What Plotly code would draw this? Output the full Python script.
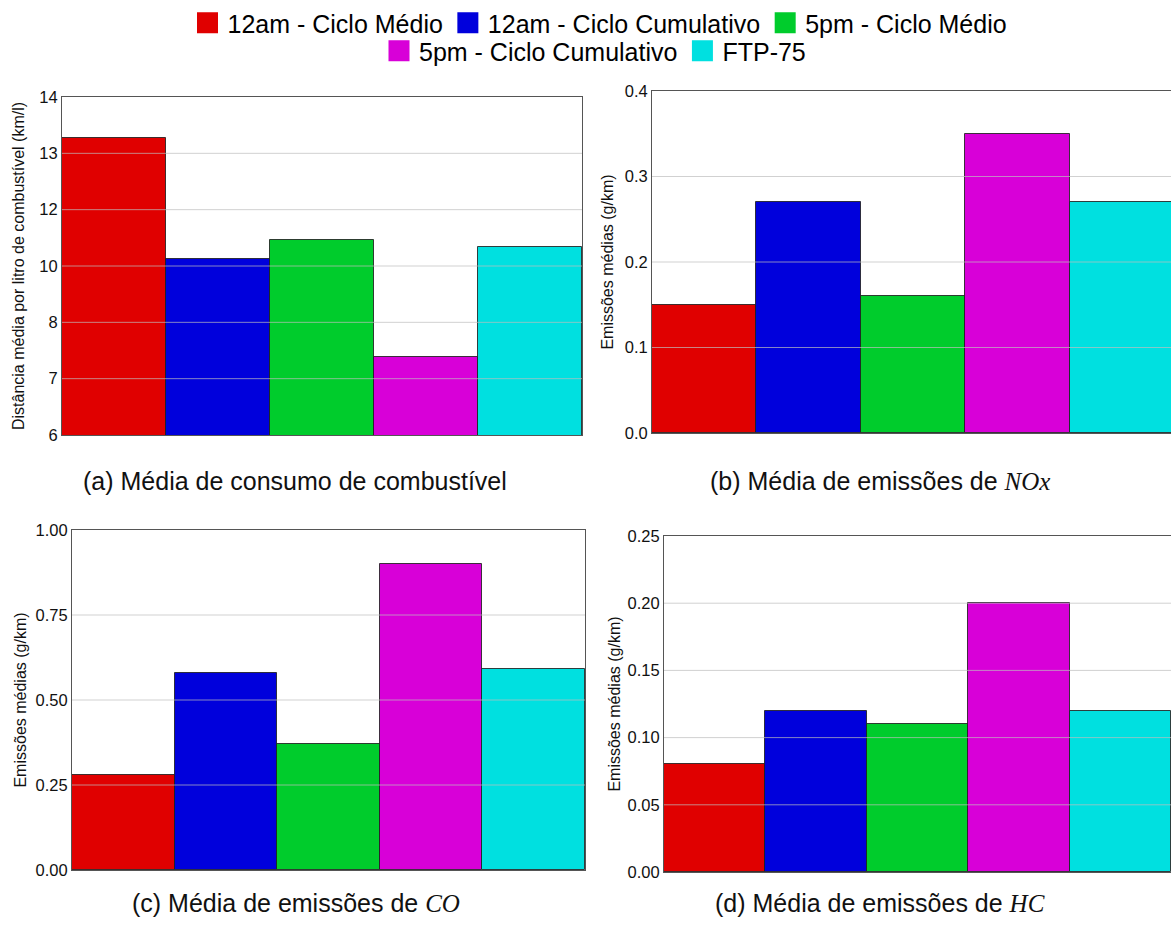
import numpy as np
import plotly.graph_objects as go

# Series (one bar per test cycle in each panel)
series = [
    "12am - Ciclo Médio",
    "12am - Ciclo Cumulativo",
    "5pm - Ciclo Médio",
    "5pm - Ciclo Cumulativo",
    "FTP-75",
]
colors = ["#e00000", "#0000dc", "#00cc2c", "#d800d8", "#00e0e0"]

# Average fuel consumption (km/l)
consumo = [13.03, 10.16, 10.61, 7.84, 10.44]
consumo_ticktext = ["6", "7", "8", "10", "12", "13", "14"]

# Average emissions (g/km)
nox = [0.15, 0.27, 0.16, 0.35, 0.27]
co = [0.28, 0.58, 0.37, 0.90, 0.59]
hc = [0.08, 0.12, 0.11, 0.20, 0.12]

W, H = 1171, 934
FONT = "Liberation Sans"
MATH = "Liberation Serif"


def px_x(v):
    return v / W


def px_y(v):
    return 1 - v / H


def math(s):
    return "<span style='font-family:%s'><i>%s</i></span>" % (MATH, s)


panels = [
    dict(vals=consumo, ax="", rng=[6, 14],
         tickvals=list(np.linspace(6, 14, len(consumo_ticktext))),
         ticktext=consumo_ticktext, fmt=None,
         title="Distância média por litro de combustível (km/l)", standoff=10,
         xdom=[62, 582], ydom=[97, 435], mirror=True, xr=[-0.5, 4.5],
         caption="(a) Média de consumo de combustível", cap=(295, 481)),
    dict(vals=nox, ax="2", rng=[0, 0.4],
         tickvals=[0, 0.1, 0.2, 0.3, 0.4], ticktext=None, fmt=".1f",
         title="Emissões médias (g/km)", standoff=7,
         xdom=[652, 1171], ydom=[91, 433], mirror=False, xr=[-0.5, 4.47],
         caption="(b) Média de emissões de " + math("NOx"), cap=(880, 481)),
    dict(vals=co, ax="3", rng=[0, 1.0],
         tickvals=[0, 0.25, 0.5, 0.75, 1.0], ticktext=None, fmt=".2f",
         title="Emissões médias (g/km)", standoff=4,
         xdom=[72, 585], ydom=[530, 870], mirror=True, xr=[-0.5, 4.5],
         caption="(c) Média de emissões de " + math("CO"), cap=(296, 903)),
    dict(vals=hc, ax="4", rng=[0, 0.25],
         tickvals=[0, 0.05, 0.10, 0.15, 0.20, 0.25], ticktext=None, fmt=".2f",
         title="Emissões médias (g/km)", standoff=2,
         xdom=[664, 1171], ydom=[536, 872], mirror=False, xr=[-0.5, 4.5],
         caption="(d) Média de emissões de " + math("HC"), cap=(880, 903)),
]

fig = go.Figure()
layout = dict(
    width=W, height=H,
    margin=dict(l=0, r=0, t=0, b=0),
    paper_bgcolor="white", plot_bgcolor="white",
    bargap=0, barmode="overlay",
    font=dict(family=FONT, color="#111111"),
    showlegend=True,
)

shapes = []
annotations = []

for p in panels:
    xa = "x" + p["ax"]
    ya = "y" + p["ax"]
    for i, name in enumerate(series):
        fig.add_trace(go.Bar(
            x=[i], y=[p["vals"][i]], width=1, name=name,
            marker=dict(color=colors[i], line=dict(color="rgba(30,30,30,0.85)", width=1)),
            xaxis=xa, yaxis=ya, showlegend=False, legendgroup=name,
        ))

    xkey = "xaxis" + p["ax"]
    ykey = "yaxis" + p["ax"]
    layout[xkey] = dict(
        domain=[px_x(p["xdom"][0]), min(1.0, px_x(p["xdom"][1]))],
        range=p["xr"], anchor=ya, showticklabels=False, showgrid=False,
        zeroline=False, showline=True, linecolor="#555555", linewidth=1,
        mirror=True, fixedrange=True,
    )
    yd = dict(
        domain=[px_y(p["ydom"][1]), px_y(p["ydom"][0])],
        range=p["rng"], anchor=xa, tickmode="array", tickvals=p["tickvals"],
        showgrid=False, zeroline=False, showline=True, linecolor="#555555",
        linewidth=1, mirror=p["mirror"], ticks="", ticklen=0,
        tickfont=dict(size=16.5, family=FONT, color="#111111"),
        title=dict(text=p["title"], standoff=p["standoff"],
                   font=dict(size=16, family=FONT, color="#111111")),
        automargin=False, fixedrange=True,
    )
    if p["ticktext"] is not None:
        yd["ticktext"] = p["ticktext"]
    else:
        yd["tickformat"] = p["fmt"]
    layout[ykey] = yd

    # light grid lines, drawn over the bars
    for tv in p["tickvals"][1:-1]:
        shapes.append(dict(
            type="line", xref=xa + " domain", yref=ya, x0=0, x1=1, y0=tv, y1=tv,
            line=dict(color="rgba(190,190,190,0.7)", width=1), layer="above",
        ))

    annotations.append(dict(
        text=p["caption"], xref="paper", yref="paper",
        x=px_x(p["cap"][0]), y=px_y(p["cap"][1]), xanchor="center", yanchor="middle",
        showarrow=False, font=dict(size=25, family=FONT, color="#111111"),
    ))

# legend entries (two rows)
for i, name in enumerate(series):
    fig.add_trace(go.Scatter(
        x=[None], y=[None], mode="markers", name=name, legendgroup=name,
        marker=dict(symbol="square", size=16, color=colors[i],
                    line=dict(color=colors[i], width=5)),
        legend="legend" if i < 3 else "legend2", showlegend=True,
    ))

legend_common = dict(
    orientation="h", xanchor="center", yanchor="top",
    font=dict(size=25, family=FONT, color="#000000"),
    bgcolor="rgba(0,0,0,0)", itemwidth=30, itemsizing="trace",
    itemclick=False, itemdoubleclick=False,
)
# both legend boxes sit fully inside the page so the plot areas keep their domains
layout["legend"] = dict(legend_common, x=px_x(600), y=1.0)
layout["legend2"] = dict(legend_common, x=px_x(595), y=px_y(28))
layout["shapes"] = shapes
layout["annotations"] = annotations

fig.update_layout(**layout)
fig.write_html("out.html")
